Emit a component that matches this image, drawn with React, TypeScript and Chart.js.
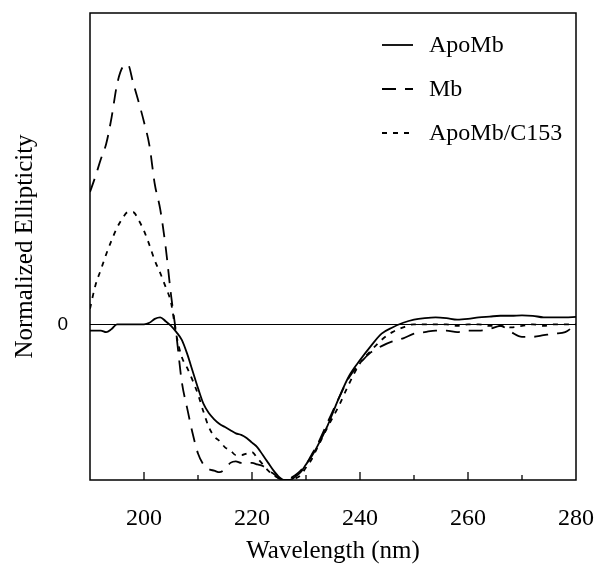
import React, { useEffect, useRef } from "react";
import { Chart, registerables } from "chart.js";

Chart.register(...registerables);

// ---- Data ----
const wavelengths = [
  190, 191, 192, 193, 194, 195, 196, 197, 198, 199,
  200, 201, 202, 203, 204, 205, 206, 207, 208, 209,
  210, 211, 212, 213, 214, 215, 216, 217, 218, 219,
  220, 221, 222, 223, 224, 225, 226, 227, 228, 229,
  230, 231, 232, 234, 236, 238, 240, 242, 244, 246,
  248, 250, 252, 254, 256, 258, 260, 262, 264, 266,
  268, 270, 272, 274, 276, 278, 280,
];

const apoMb = [
  -0.04, -0.04, -0.04, -0.05, -0.03, 0.0, 0.0, 0.0, 0.0, 0.0,
  0.0, 0.01, 0.035, 0.045, 0.02, -0.01, -0.05, -0.1, -0.19, -0.3,
  -0.41, -0.51, -0.57, -0.61, -0.64, -0.66, -0.68, -0.7, -0.71, -0.73,
  -0.76, -0.79, -0.84, -0.89, -0.94, -0.98, -1.0, -1.0, -0.98, -0.95,
  -0.9, -0.85, -0.79, -0.65, -0.48, -0.33, -0.23, -0.14, -0.06, -0.02,
  0.01, 0.03, 0.04, 0.045, 0.04, 0.03, 0.035, 0.045, 0.05, 0.055,
  0.055, 0.058, 0.055, 0.045, 0.045, 0.045, 0.048,
];

const mb = [
  0.85, 0.95, 1.06, 1.16, 1.33, 1.54, 1.65, 1.67, 1.55, 1.43,
  1.3, 1.15, 0.9, 0.74, 0.5, 0.19, -0.07, -0.37, -0.54, -0.7,
  -0.83, -0.9, -0.93, -0.94, -0.95, -0.93, -0.89, -0.88, -0.89, -0.89,
  -0.89, -0.9, -0.91, -0.94, -0.96, -0.99, -1.0, -0.99, -0.97, -0.94,
  -0.9, -0.84, -0.78, -0.63, -0.48, -0.34, -0.25, -0.18, -0.14, -0.11,
  -0.09, -0.06, -0.05, -0.04, -0.04, -0.05, -0.04, -0.04, -0.03, -0.01,
  -0.05, -0.08, -0.08, -0.07, -0.06, -0.05, 0.0,
];

const apoMbC153 = [
  0.1, 0.25, 0.35, 0.45, 0.54, 0.62, 0.68, 0.72, 0.72, 0.67,
  0.6, 0.51, 0.41, 0.33, 0.24, 0.14, -0.07, -0.21, -0.28, -0.36,
  -0.45, -0.56, -0.66, -0.72, -0.75, -0.79, -0.81, -0.84, -0.84, -0.83,
  -0.82, -0.86, -0.9, -0.94, -0.97, -0.99, -1.0, -1.0, -0.99, -0.97,
  -0.92, -0.87, -0.8, -0.66, -0.53, -0.38, -0.25, -0.17, -0.1, -0.05,
  -0.02, 0.0, 0.0, 0.0, 0.0, -0.01, 0.0, 0.0, -0.01, -0.01,
  -0.02, -0.01, 0.0, -0.01, 0.0, 0.0, 0.0,
];

const seriesLabels = ["ApoMb", "Mb", "ApoMb/C153"];
const xTickLabels = [200, 220, 240, 260, 280];
const yTickLabels = [0];

const SERIF = '"Liberation Serif", "Times New Roman", serif';
const SANS = '"Liberation Sans", Arial, sans-serif';

const toPoints = (vals: number[]) => vals.map((v, i) => ({ x: wavelengths[i], y: v }));

const framePlugin = {
  id: "frameTicks",
  afterDatasetsDraw(chart: any) {
    const { ctx, chartArea } = chart;
    const xs = chart.scales.x;
    ctx.save();
    ctx.strokeStyle = "#000";
    ctx.lineWidth = 1.5;
    ctx.setLineDash([]);
    ctx.strokeRect(chartArea.left, chartArea.top, chartArea.right - chartArea.left, chartArea.bottom - chartArea.top);
    ctx.lineWidth = 1.3;
    xs.ticks.forEach((t: any) => {
      const px = xs.getPixelForValue(t.value);
      if (px <= chartArea.left + 1 || px >= chartArea.right - 1) return;
      const major = xTickLabels.includes(t.value);
      const len = major ? 8 : 5;
      ctx.beginPath();
      ctx.moveTo(px, chartArea.bottom);
      ctx.lineTo(px, chartArea.bottom - len);
      ctx.stroke();
    });
    ctx.restore();
  },
};

const legendPlugin = {
  id: "innerLegend",
  afterDraw(chart: any) {
    const { ctx, chartArea } = chart;
    ctx.save();
    const x0 = chartArea.right - 194;
    const y0 = chartArea.top + 32;
    chart.data.datasets.forEach((ds: any, i: number) => {
      const y = y0 + i * 44;
      ctx.strokeStyle = "#000";
      ctx.lineWidth = 1.8;
      ctx.setLineDash(ds.borderDash || []);
      ctx.beginPath();
      ctx.moveTo(x0, y);
      ctx.lineTo(x0 + 31, y);
      ctx.stroke();
      ctx.setLineDash([]);
      ctx.fillStyle = "#000";
      ctx.font = `24px ${SERIF}`;
      ctx.textAlign = "left";
      ctx.textBaseline = "middle";
      ctx.fillText(ds.label, x0 + 47, y + 1);
    });
    ctx.restore();
  },
};

export default function App() {
  const canvasRef = useRef<HTMLCanvasElement | null>(null);

  useEffect(() => {
    if (!canvasRef.current) return;
    const common = {
      borderColor: "#000",
      borderWidth: 1.8,
      pointRadius: 0,
      fill: false,
      cubicInterpolationMode: "monotone" as const,
    };
    const chart = new Chart(canvasRef.current, {
      type: "line",
      data: {
        datasets: [
          { ...common, label: seriesLabels[0], data: toPoints(apoMb), borderDash: [] },
          { ...common, label: seriesLabels[1], data: toPoints(mb), borderDash: [14, 9] },
          { ...common, label: seriesLabels[2], data: toPoints(apoMbC153), borderDash: [5, 6] },
        ],
      },
      options: {
        animation: false,
        responsive: false,
        maintainAspectRatio: false,
        layout: { padding: { left: 0, right: 19, top: 13, bottom: 0 } },
        plugins: {
          legend: { display: false },
          tooltip: { enabled: false },
        },
        scales: {
          x: {
            type: "linear",
            min: 190,
            max: 280,
            afterFit: (s: any) => {
              s.height = 93;
              s.paddingLeft = 0;
              s.paddingRight = 0;
            },
            ticks: {
              stepSize: 10,
              autoSkip: false,
              maxRotation: 0,
              padding: 24,
              color: "#000",
              font: { family: SERIF, size: 24 },
              callback: (v: any) => (xTickLabels.includes(v) ? String(v) : ""),
            },
            grid: { display: false, drawTicks: false },
            border: { display: false },
            title: {
              display: true,
              text: "Wavelength (nm)",
              color: "#000",
              font: { family: SERIF, size: 25 },
              padding: { top: 0, bottom: 7 },
            },
          },
          y: {
            type: "linear",
            min: -1,
            max: 2,
            afterFit: (s: any) => {
              s.width = 90;
              s.paddingTop = 0;
              s.paddingBottom = 0;
            },
            ticks: {
              stepSize: 1,
              padding: 22,
              color: "#000",
              font: { family: SANS, size: 19 },
              callback: (v: any) => (yTickLabels.includes(v) ? String(v) : ""),
            },
            grid: {
              drawTicks: false,
              lineWidth: 1,
              color: (c: any) => (c.tick && c.tick.value === 0 ? "#000" : "rgba(0,0,0,0)"),
            },
            border: { display: false },
            title: {
              display: true,
              text: "Normalized Ellipticity",
              color: "#000",
              font: { family: SERIF, size: 25 },
              padding: { top: 10, bottom: 0 },
            },
          },
        },
      },
      plugins: [framePlugin, legendPlugin],
    });
    return () => chart.destroy();
  }, []);

  return (
    <div style={{ position: "absolute", left: 0, top: 0, width: 595, height: 573, background: "#fff" }}>
      <canvas ref={canvasRef} width={595} height={573} style={{ display: "block" }} />
    </div>
  );
}
